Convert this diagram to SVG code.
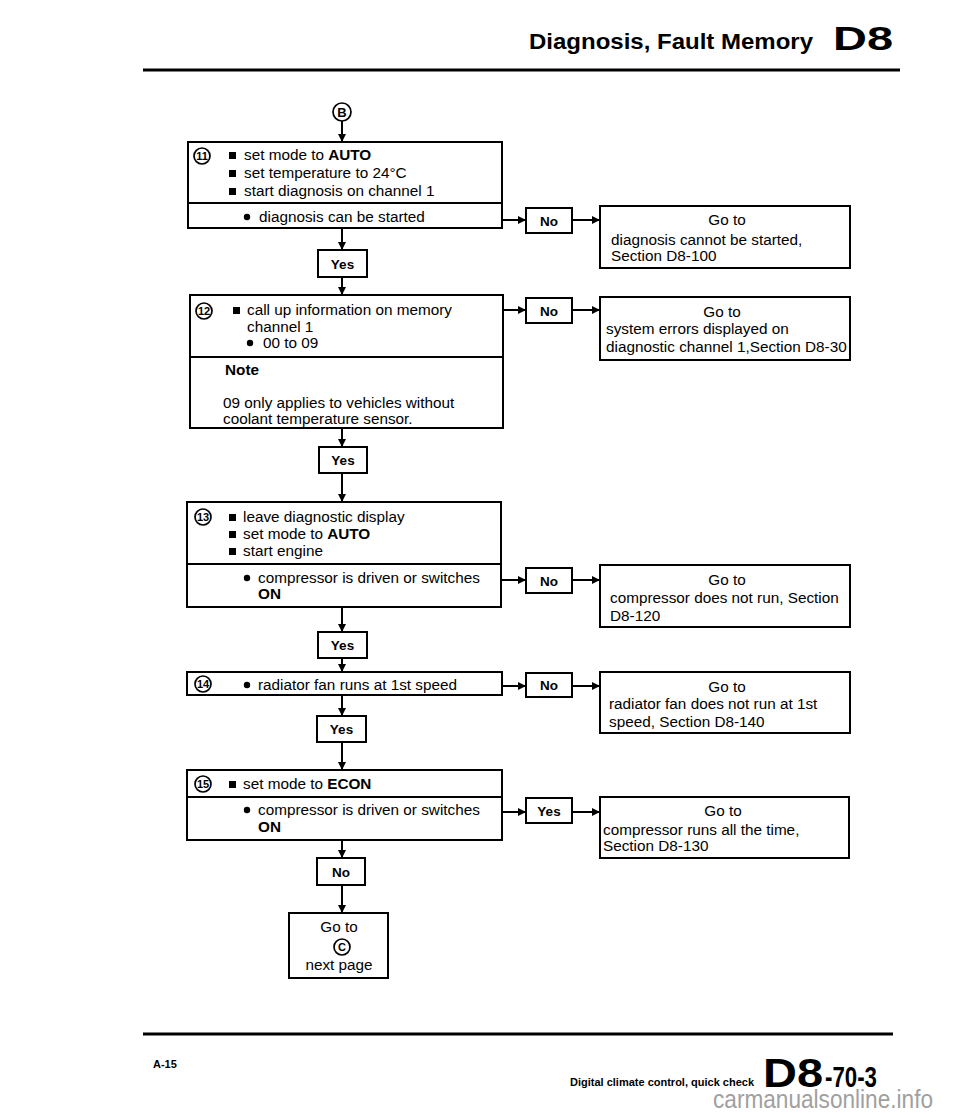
<svg xmlns="http://www.w3.org/2000/svg" width="960" height="1115" viewBox="0 0 960 1115">
<defs>
<marker id="ah" viewBox="0 0 10 10" refX="10" refY="5" markerWidth="9" markerHeight="8" markerUnits="userSpaceOnUse" orient="auto">
<path d="M0,0 L10,5 L0,10 Z" fill="#000"/>
</marker>
<style>
text{font-family:"Liberation Sans",Arial,sans-serif;fill:#000}
.t{font-size:15.3px}
.b{font-weight:bold}
.c{text-anchor:middle}
.box{fill:none;stroke:#000;stroke-width:2}
.num{font-size:11px;font-weight:bold;text-anchor:middle}
.circ{fill:#fff;stroke:#000;stroke-width:1.7}
.lab{font-size:13.5px;font-weight:bold;text-anchor:middle}
.con{fill:none;stroke:#000;stroke-width:2;marker-end:url(#ah)}
.sq{fill:#000}
</style>
</defs>
<rect x="0" y="0" width="960" height="1115" fill="#fff"/>

<g id="header">
<text x="529" y="49" font-size="22" class="b" textLength="284" lengthAdjust="spacingAndGlyphs">Diagnosis, Fault Memory</text>
<text x="833" y="50" font-size="33" class="b" textLength="60" lengthAdjust="spacingAndGlyphs">D8</text>
<line x1="143" y1="70" x2="900" y2="70" stroke="#000" stroke-width="3"/>
</g>

<g id="connectors">
<line class="con" x1="342" y1="121" x2="342" y2="142"/>
<line class="con" x1="342" y1="228" x2="342" y2="250"/>
<line class="con" x1="342" y1="277" x2="342" y2="295"/>
<line class="con" x1="342" y1="428" x2="342" y2="447"/>
<line class="con" x1="342" y1="473" x2="342" y2="502"/>
<line class="con" x1="342" y1="607" x2="342" y2="632"/>
<line class="con" x1="342" y1="658" x2="342" y2="672"/>
<line class="con" x1="342" y1="695" x2="342" y2="716"/>
<line class="con" x1="342" y1="742" x2="342" y2="770"/>
<line class="con" x1="342" y1="840" x2="342" y2="858"/>
<line class="con" x1="342" y1="885" x2="342" y2="913"/>
<line class="con" x1="502" y1="220" x2="526" y2="220"/>
<line class="con" x1="572" y1="220" x2="600" y2="220"/>
<line class="con" x1="503" y1="310" x2="526" y2="310"/>
<line class="con" x1="572" y1="310" x2="600" y2="310"/>
<line class="con" x1="501" y1="580" x2="526" y2="580"/>
<line class="con" x1="572" y1="580" x2="600" y2="580"/>
<line class="con" x1="502" y1="686" x2="526" y2="686"/>
<line class="con" x1="572" y1="686" x2="600" y2="686"/>
<line class="con" x1="502" y1="812" x2="526" y2="812"/>
<line class="con" x1="572" y1="812" x2="600" y2="812"/>
</g>

<g id="nodeB">
<circle class="circ" cx="342" cy="112" r="9"/>
<text x="342" y="117" font-size="13" class="b c">B</text>
</g>

<g id="step11">
<rect class="box" x="188" y="142" width="314" height="86"/>
<line x1="188" y1="203" x2="502" y2="203" stroke="#000" stroke-width="2"/>
<circle class="circ" cx="202" cy="156" r="8"/>
<text x="202" y="160" class="num">11</text>
<rect class="sq" x="229" y="152" width="7" height="7"/>
<rect class="sq" x="229" y="170" width="7" height="7"/>
<rect class="sq" x="229" y="188" width="7" height="7"/>
<text x="244" y="160" class="t">set mode to <tspan class="b">AUTO</tspan></text>
<text x="244" y="178" class="t">set temperature to 24°C</text>
<text x="244" y="196" class="t">start diagnosis on channel 1</text>
<circle cx="247" cy="217" r="3.2"/>
<text x="259" y="222" class="t">diagnosis can be started</text>
</g>

<g id="yes1">
<rect class="box" x="318" y="250" width="49" height="27"/>
<text x="342.5" y="268.5" class="lab">Yes</text>
</g>

<g id="no11">
<rect class="box" x="526" y="208" width="46" height="25"/>
<text x="549" y="225.5" class="lab">No</text>
</g>
<g id="goto11">
<rect class="box" x="600" y="206" width="250" height="62"/>
<text x="727" y="225" class="t c">Go to</text>
<text x="611" y="245" class="t">diagnosis cannot be started,</text>
<text x="611" y="261" class="t">Section D8-100</text>
</g>

<g id="step12">
<rect class="box" x="190" y="295" width="313" height="133"/>
<line x1="190" y1="357" x2="503" y2="357" stroke="#000" stroke-width="2"/>
<circle class="circ" cx="204" cy="311" r="8"/>
<text x="204" y="315" class="num">12</text>
<rect class="sq" x="233" y="307" width="7" height="7"/>
<text x="247" y="315" class="t">call up information on memory</text>
<text x="247" y="332" class="t">channel 1</text>
<circle cx="250" cy="343" r="3.2"/>
<text x="263" y="348" class="t">00 to 09</text>
<text x="225" y="375" class="t b">Note</text>
<text x="223" y="408" class="t">09 only applies to vehicles without</text>
<text x="223" y="424" class="t">coolant temperature sensor.</text>
</g>

<g id="no12">
<rect class="box" x="526" y="298" width="46" height="25"/>
<text x="549" y="315.5" class="lab">No</text>
</g>
<g id="goto12">
<rect class="box" x="600" y="297" width="250" height="63"/>
<text x="722" y="317" class="t c">Go to</text>
<text x="606" y="334" class="t">system errors displayed on</text>
<text x="606" y="352" class="t">diagnostic channel 1,Section D8-30</text>
</g>

<g id="yes2">
<rect class="box" x="319" y="447" width="48" height="26"/>
<text x="343" y="465" class="lab">Yes</text>
</g>

<g id="step13">
<rect class="box" x="187" y="502" width="314" height="105"/>
<line x1="187" y1="564" x2="501" y2="564" stroke="#000" stroke-width="2"/>
<circle class="circ" cx="203" cy="517" r="8"/>
<text x="203" y="521" class="num">13</text>
<rect class="sq" x="229" y="514" width="7" height="7"/>
<rect class="sq" x="229" y="531" width="7" height="7"/>
<rect class="sq" x="229" y="548" width="7" height="7"/>
<text x="243" y="522" class="t">leave diagnostic display</text>
<text x="243" y="539" class="t">set mode to <tspan class="b">AUTO</tspan></text>
<text x="243" y="556" class="t">start engine</text>
<circle cx="247" cy="578" r="3.2"/>
<text x="258" y="583" class="t">compressor is driven or switches</text>
<text x="258" y="599" class="t b">ON</text>
</g>

<g id="no13">
<rect class="box" x="526" y="568" width="46" height="25"/>
<text x="549" y="585.5" class="lab">No</text>
</g>
<g id="goto13">
<rect class="box" x="600" y="565" width="250" height="62"/>
<text x="727" y="585" class="t c">Go to</text>
<text x="610" y="603" class="t">compressor does not run, Section</text>
<text x="610" y="621" class="t">D8-120</text>
</g>

<g id="yes3">
<rect class="box" x="318" y="632" width="49" height="26"/>
<text x="342.5" y="650" class="lab">Yes</text>
</g>

<g id="step14">
<rect class="box" x="187" y="672" width="315" height="23"/>
<circle class="circ" cx="203" cy="684" r="8"/>
<text x="203" y="688" class="num">14</text>
<circle cx="247" cy="685" r="3.2"/>
<text x="258" y="690" class="t">radiator fan runs at 1st speed</text>
</g>

<g id="no14">
<rect class="box" x="526" y="673" width="46" height="24"/>
<text x="549" y="690" class="lab">No</text>
</g>
<g id="goto14">
<rect class="box" x="600" y="672" width="250" height="61"/>
<text x="727" y="692" class="t c">Go to</text>
<text x="609" y="709" class="t">radiator fan does not run at 1st</text>
<text x="609" y="727" class="t">speed, Section D8-140</text>
</g>

<g id="yes4">
<rect class="box" x="317" y="716" width="49" height="26"/>
<text x="341.5" y="734" class="lab">Yes</text>
</g>

<g id="step15">
<rect class="box" x="187" y="770" width="315" height="70"/>
<line x1="187" y1="797" x2="502" y2="797" stroke="#000" stroke-width="2"/>
<circle class="circ" cx="203" cy="784" r="8"/>
<text x="203" y="788" class="num">15</text>
<rect class="sq" x="229" y="781" width="7" height="7"/>
<text x="243" y="789" class="t">set mode to <tspan class="b">ECON</tspan></text>
<circle cx="247" cy="810" r="3.2"/>
<text x="258" y="815" class="t">compressor is driven or switches</text>
<text x="258" y="832" class="t b">ON</text>
</g>

<g id="yes15">
<rect class="box" x="526" y="798" width="46" height="25"/>
<text x="549" y="815.5" class="lab">Yes</text>
</g>
<g id="goto15">
<rect class="box" x="600" y="797" width="249" height="61"/>
<text x="723" y="816" class="t c">Go to</text>
<text x="603" y="835" class="t">compressor runs all the time,</text>
<text x="603" y="851" class="t">Section D8-130</text>
</g>

<g id="no15">
<rect class="box" x="317" y="858" width="48" height="27"/>
<text x="341" y="876.5" class="lab">No</text>
</g>

<g id="gotoC">
<rect class="box" x="289" y="913" width="99" height="65"/>
<text x="339" y="932" class="t c">Go to</text>
<circle class="circ" cx="342" cy="947" r="8"/>
<text x="342" y="951" font-size="11" class="b c">C</text>
<text x="339" y="970" class="t c">next page</text>
</g>

<g id="footer">
<line x1="143" y1="1034" x2="893" y2="1034" stroke="#000" stroke-width="3"/>
<text x="153" y="1068" font-size="11" class="b">A-15</text>
<text x="570" y="1086" font-size="11" class="b" textLength="184" lengthAdjust="spacingAndGlyphs">Digital climate control, quick check</text>
<text x="763" y="1087" font-size="41" class="b" textLength="60" lengthAdjust="spacingAndGlyphs">D8</text>
<text x="825" y="1087" font-size="30" class="b" textLength="52" lengthAdjust="spacingAndGlyphs">-70-3</text>
<text x="713" y="1108" font-size="25" style="fill:#a0a0a0" textLength="220" lengthAdjust="spacingAndGlyphs">carmanualsonline.info</text>
</g>
</svg>
